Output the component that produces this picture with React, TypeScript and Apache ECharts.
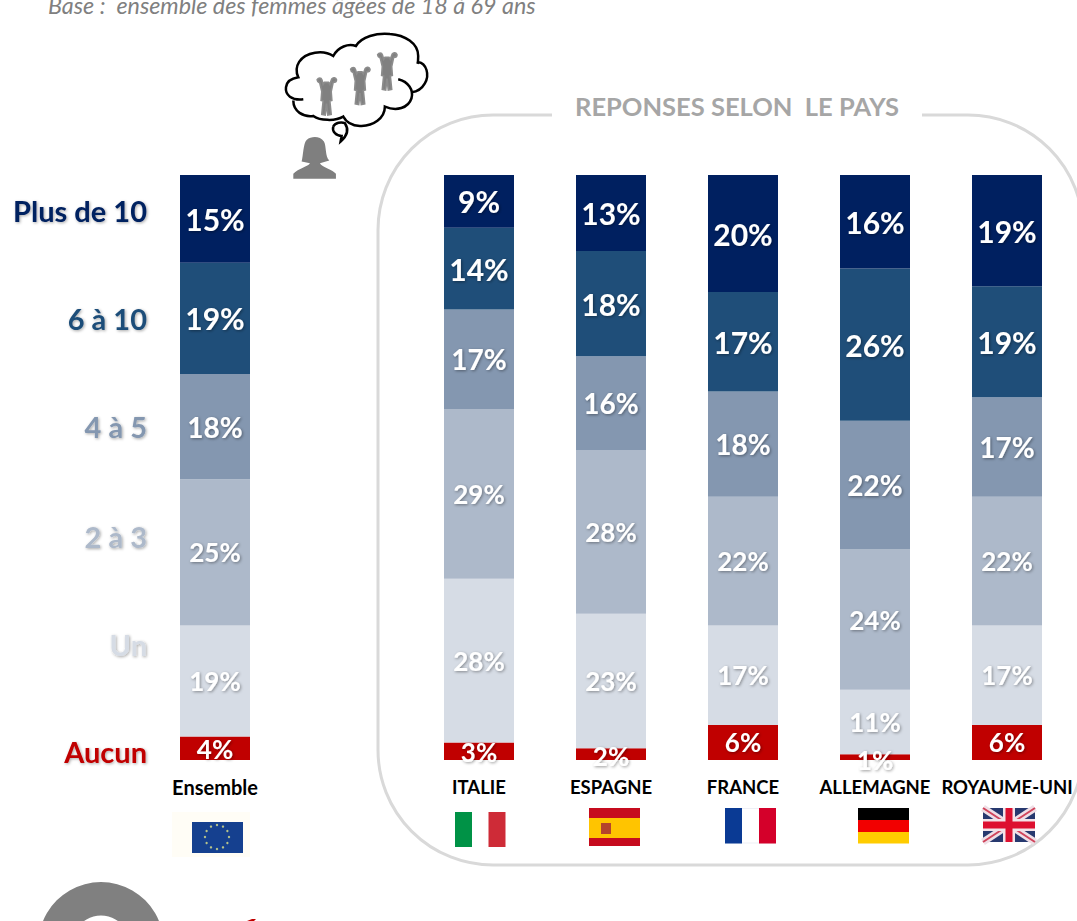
import React, { useEffect, useRef } from "react";
import * as echarts from "echarts";

const categories = ["Ensemble", "", "ITALIE", "ESPAGNE", "FRANCE", "ALLEMAGNE", "ROYAUME-UNI"];
const seriesNames = ["Aucun", "Un", "2 à 3", "4 à 5", "6 à 10", "Plus de 10"];
const aucun = [4, null, 3, 2, 6, 1, 6];
const un = [19, null, 28, 23, 17, 11, 17];
const deuxTrois = [25, null, 29, 28, 22, 24, 22];
const quatreCinq = [18, null, 17, 16, 18, 22, 17];
const sixDix = [19, null, 14, 18, 17, 26, 19];
const plusDix = [15, null, 9, 13, 20, 16, 19];
const seriesValues = [aucun, un, deuxTrois, quatreCinq, sixDix, plusDix];
const colors = ["#c00000", "#d6dce5", "#adb9ca", "#8497b0", "#1f4e79", "#002060"];
const labelSizes = [26, 26, 26, 28, 30, 30];
const sideLabelY = [751, 644, 536, 426, 318, 210];
const aucunLabelShift = [1, 0, 1, 2, 0, 3, 0];

const FONT = "Lato, 'Open Sans', sans-serif";
const titleText = "REPONSES SELON  LE PAYS";
const baseText = "Base :  ensemble des femmes âgées de 18 à 69 ans";

const framePath =
  "M552 115 L493 115 A115 115 0 0 0 378 230 L378 750 A115 115 0 0 0 493 865 L968 865 A115 115 0 0 0 1083 750 L1083 230 A115 115 0 0 0 968 115 L922 115";
const cloudPath =
  "M100 208 C65 212 45 195 48 172 C50 155 65 145 85 142 C70 110 90 75 135 68 C155 65 175 68 190 78 C205 50 235 40 258 48 C275 20 320 8 360 12 C405 15 445 40 445 78 C445 85 445 95 443 102 M445 96 C470 100 480 135 465 160 C455 178 440 185 425 187 M385 148 C415 155 432 180 425 205 C415 235 380 245 345 230 C345 265 310 290 270 288 C245 287 228 275 220 260 C195 275 150 272 130 258 C100 262 70 245 70 212 M190 290 C195 278 215 275 225 280 C235 295 235 315 212 335 L215 318 C200 318 185 305 190 290";
const womanPath =
  "M70 447 L70 432 C85 415 115 410 120 400 L95 395 C100 375 100 340 110 330 C125 318 150 318 162 335 C170 350 165 380 178 392 L150 400 C155 412 190 420 198 432 L198 447 Z";
const girlPath =
  "M2 8 C6 2 14 2 16 8 L20 22 L24 16 L36 16 L40 22 L46 6 C50 0 58 2 60 8 C60 14 54 16 50 16 L44 44 L46 70 L40 72 L44 112 L34 114 L30 80 L26 114 L16 112 L20 72 L14 70 L16 44 L10 18 C6 16 2 14 2 8 Z";

echarts.graphic.registerShape("frameOutline", echarts.graphic.extendPath(framePath, {}));
echarts.graphic.registerShape("cloudOutline", echarts.graphic.extendPath(cloudPath, {}));
echarts.graphic.registerShape("womanShape", echarts.graphic.extendPath(womanPath, {}));
echarts.graphic.registerShape("girlShape", echarts.graphic.extendPath(girlPath, {}));

const rect = (x: number, y: number, width: number, height: number, fill: string) => ({
  type: "rect",
  shape: { x, y, width, height },
  style: { fill },
});

function euStars() {
  const out: any[] = [];
  for (let i = 0; i < 12; i++) {
    const a = (i / 12) * Math.PI * 2;
    out.push({
      type: "circle",
      shape: { cx: 217 + Math.cos(a) * 12, cy: 837 + Math.sin(a) * 12, r: 1.2 },
      style: { fill: "#b8c48a" },
    });
  }
  return out;
}

function ukFlag() {
  const x0 = 983, y0 = 808, x1 = 1035, y1 = 842, cx = 1009, cy = 825;
  const line = (x1a: number, y1a: number, x2a: number, y2a: number, stroke: string, lineWidth: number) => ({
    type: "line",
    shape: { x1: x1a, y1: y1a, x2: x2a, y2: y2a },
    style: { stroke, lineWidth },
  });
  return [
    rect(x0, y0, 52, 34, "#27396f"),
    line(x0, y0, x1, y1, "#efdfe6", 7),
    line(x0, y1, x1, y0, "#efdfe6", 7),
    line(x0, y0, x1, y1, "#d0455c", 2),
    line(x0, y1, x1, y0, "#d0455c", 2),
    line(cx, y0, cx, y1, "#f3e3e8", 12),
    line(x0, cy, x1, cy, "#f3e3e8", 12),
    line(cx, y0, cx, y1, "#dd1030", 7),
    line(x0, cy, x1, cy, "#dd1030", 7),
  ];
}

const girlStyle = { fill: "#808080", stroke: "#8c8c8c", lineWidth: 5 };

const graphics: any[] = [
  { type: "frameOutline", style: { fill: "none", stroke: "#d9d9d9", lineWidth: 3 } },
  {
    type: "text",
    x: 575,
    y: 106,
    style: { text: titleText, font: `bold 25.5px ${FONT}`, fill: "#a6a6a6", textAlign: "left", textVerticalAlign: "middle" },
  },
  {
    type: "text",
    x: 48,
    y: 5,
    style: { text: baseText, font: `italic 23.3px ${FONT}`, fill: "#808080", textAlign: "left", textVerticalAlign: "middle" },
  },
  { type: "cloudOutline", x: 270, y: 30, scaleX: 1 / 3, scaleY: 1 / 3, style: { fill: "none", stroke: "#000000", lineWidth: 7.5 } },
  { type: "womanShape", x: 270, y: 30, scaleX: 1 / 3, scaleY: 1 / 3, style: { fill: "#7f7f7f" } },
  { type: "girlShape", x: 316.5, y: 77, scaleX: 1 / 3, scaleY: 1 / 3, style: girlStyle },
  { type: "girlShape", x: 350, y: 66.5, scaleX: 1 / 3, scaleY: 1 / 3, style: girlStyle },
  { type: "girlShape", x: 377, y: 52, scaleX: 1 / 3, scaleY: 1 / 3, style: girlStyle },
  { type: "ring", shape: { cx: 101, cy: 944.6, r: 62.6, r0: 29 }, style: { fill: "#808080" } },
  { type: "polygon", shape: { points: [[247, 921], [252, 919], [256, 919], [254, 921]] }, style: { fill: "#c00000" } },
  // drapeaux
  rect(172, 812, 78, 45, "#fffdf6"),
  rect(192, 822, 51, 31, "#15408f"),
  ...euStars(),
  rect(455, 812, 17, 35, "#009246"),
  rect(488.5, 812, 17, 35, "#ce2b37"),
  rect(589, 808, 51, 38, "#c60b1e"),
  rect(589, 818, 51, 20, "#ffc400"),
  rect(601, 823, 10, 11, "#b5442c"),
  rect(725, 808, 51, 35.5, "#eeeff5"),
  rect(742, 809, 17, 33.5, "#ffffff"),
  rect(725, 808, 17, 35.5, "#0a3a94"),
  rect(759, 808, 17, 35.5, "#d4002a"),
  rect(858, 808, 51, 12, "#000000"),
  rect(858, 820, 51, 12, "#f20000"),
  rect(858, 832, 51, 11.5, "#ffcc00"),
  ...ukFlag(),
  // libellés de gauche
  ...seriesNames.map((name, i) => ({
    type: "text",
    x: 147,
    y: sideLabelY[i],
    style: {
      text: name,
      font: `bold 29px ${FONT}`,
      fill: colors[i],
      textAlign: "right",
      textVerticalAlign: "middle",
      textShadowColor: "rgba(0,0,0,0.35)",
      textShadowBlur: 3,
      textShadowOffsetX: 1,
      textShadowOffsetY: 1,
    },
  })),
];

export default function App() {
  const ref = useRef<HTMLDivElement>(null);
  useEffect(() => {
    const chart = echarts.init(ref.current!, null, { renderer: "svg" });
    chart.setOption({
      animation: false,
      backgroundColor: "#ffffff",
      grid: { left: 149, top: 175, width: 924, height: 585, containLabel: false },
      xAxis: {
        type: "category",
        data: categories,
        axisLine: { show: false },
        axisTick: { show: false },
        axisLabel: {
          interval: 0,
          margin: 17,
          color: "#000000",
          fontFamily: FONT,
          fontWeight: "bold",
          fontSize: 18.5,
          hideOverlap: false,
          formatter: (v: string) => (v === categories[0] ? `{e|${v}}` : v),
          rich: { e: { fontFamily: FONT, fontWeight: "bold", fontSize: 20, color: "#000000" } },
        },
      },
      yAxis: { type: "value", min: 0, max: 100, show: false },
      series: seriesValues.map((values, i) => ({
        name: seriesNames[i],
        type: "bar",
        stack: "total",
        barWidth: 70,
        data: i === 0
          ? values.map((v, j) => ({ value: v, label: { offset: [0, aucunLabelShift[j]] } }))
          : values,
        itemStyle: { color: colors[i] },
        label: {
          show: true,
          position: "inside",
          formatter: "{c}%",
          color: "#ffffff",
          fontFamily: FONT,
          fontWeight: "bold",
          fontSize: labelSizes[i],
          textShadowColor: "rgba(0,0,0,0.4)",
          textShadowBlur: 3,
          textShadowOffsetX: 1,
          textShadowOffsetY: 1,
        },
      })),
      graphic: graphics,
    });
    return () => chart.dispose();
  }, []);
  return <div ref={ref} style={{ position: "fixed", left: 0, top: 0, width: 1077, height: 921 }} />;
}
